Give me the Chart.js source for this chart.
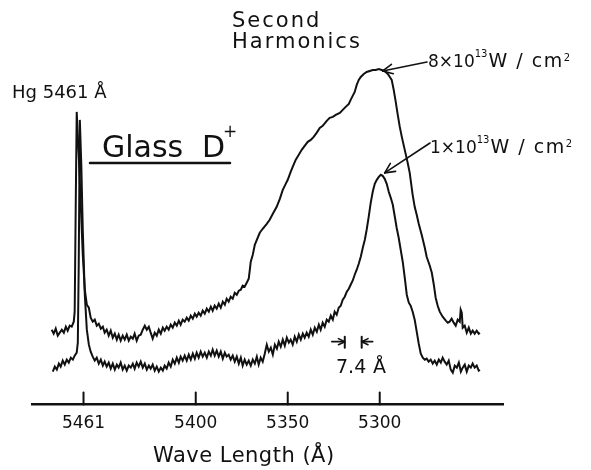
<!DOCTYPE html>
<html>
<head>
<meta charset="utf-8">
<title>Glass D+ second harmonics</title>
<script src="https://cdn.jsdelivr.net/npm/chart.js@4.4.1/dist/chart.umd.min.js"></script>
<style>
    html, body { margin: 0; padding: 0; background: #fff; }
    #chart { display: block; }
</style>
</head>
<body>
<canvas id="chart" width="591" height="470"></canvas>
<script>
// wavelength (Angstrom) and relative intensity
const highWl = [5478.3, 5477.2, 5476.1, 5475.0, 5473.9, 5472.8, 5471.7, 5470.6, 5469.6, 5468.5, 5467.4, 5466.3, 5465.8, 5465.2, 5464.7, 5463.6, 5462.5, 5461.4, 5460.3, 5459.2,
    5458.1, 5457.1, 5456.0, 5454.9, 5453.8, 5452.7, 5451.6, 5450.5, 5449.5, 5448.4, 5447.3, 5446.2, 5445.1, 5444.0, 5442.9, 5441.9, 5440.8, 5439.7, 5438.6, 5437.5,
    5436.4, 5435.3, 5434.2, 5433.2, 5432.1, 5431.0, 5429.9, 5428.8, 5427.7, 5426.6, 5425.5, 5424.5, 5423.4, 5422.3, 5421.2, 5420.1, 5419.0, 5417.9, 5416.9, 5415.8,
    5414.7, 5413.6, 5412.5, 5411.4, 5410.3, 5409.2, 5408.2, 5407.1, 5406.0, 5404.9, 5403.8, 5402.7, 5401.6, 5400.5, 5399.5, 5398.4, 5397.3, 5396.2, 5395.1, 5394.0,
    5392.9, 5391.8, 5390.8, 5389.7, 5388.6, 5387.5, 5386.4, 5385.3, 5384.2, 5383.2, 5382.1, 5381.0, 5379.9, 5378.8, 5377.7, 5376.6, 5375.5, 5374.5, 5373.4, 5372.3,
    5371.2, 5370.6, 5370.1, 5369.0, 5367.9, 5366.8, 5365.2, 5363.6, 5361.4, 5359.8, 5358.1, 5356.0, 5354.3, 5352.7, 5351.1, 5350.0, 5348.4, 5347.3, 5345.7, 5344.0,
    5342.4, 5340.8, 5339.1, 5337.5, 5335.9, 5334.3, 5332.6, 5331.0, 5328.8, 5327.2, 5325.5, 5323.9, 5321.7, 5320.1, 5318.5, 5316.8, 5315.8, 5314.7, 5313.6, 5312.5,
    5311.4, 5310.3, 5308.7, 5307.1, 5305.4, 5303.8, 5302.2, 5300.5, 5298.9, 5297.3, 5295.6, 5294.5, 5293.5, 5292.4, 5291.3, 5290.2, 5289.1, 5288.0, 5286.4, 5284.8,
    5283.7, 5282.1, 5281.0, 5279.9, 5278.8, 5277.2, 5275.5, 5274.5, 5272.8, 5271.7, 5270.6, 5269.6, 5268.5, 5267.4, 5265.8, 5264.1, 5263.0, 5262.0, 5260.9, 5259.8,
    5258.7, 5257.6, 5256.5, 5256.0, 5255.4, 5254.9, 5253.8, 5252.7, 5251.6, 5250.5, 5249.5, 5248.4, 5247.3, 5246.2, 5245.6];
const highInt = [75, 71, 76, 69, 72, 75, 72, 78, 74, 79, 78, 83, 93, 205, 293, 250, 200, 150, 115, 100,
    97, 87, 83, 85, 79, 81, 76, 78, 72, 75, 69, 74, 67, 71, 65, 70, 64, 69, 65, 70,
    64, 68, 66, 71, 64, 69, 70, 75, 79, 75, 78, 72, 66, 72, 69, 75, 71, 77, 74, 78,
    75, 80, 77, 82, 79, 84, 80, 85, 83, 87, 84, 89, 86, 91, 88, 92, 89, 94, 91, 96,
    93, 98, 94, 99, 96, 101, 97, 103, 100, 106, 103, 108, 106, 112, 110, 114, 115, 119, 118, 122,
    126, 135, 143, 150, 160, 165, 172, 176, 181, 185, 191, 198, 206, 215, 221, 225, 233, 238, 245, 250,
    255, 259, 263, 265, 268, 272, 277, 279, 284, 287, 288, 290, 292, 295, 298, 301, 305, 309, 313, 320,
    325, 328, 331, 333, 334, 335, 335, 336, 335, 334, 331, 328, 325, 315, 303, 290, 278, 268, 255, 242,
    232, 210, 198, 190, 181, 170, 157, 148, 139, 132, 120, 107, 99, 93, 88, 84, 82, 83, 86, 82,
    79, 85, 83, 95, 92, 77, 79, 72, 77, 71, 74, 71, 74, 71, 72];

const lowWl = [5477.7, 5476.6, 5475.5, 5474.4, 5473.4, 5472.3, 5471.2, 5470.1, 5469.0, 5467.9, 5466.8, 5465.8, 5464.7, 5464.1, 5463.6, 5463.0, 5462.2, 5461.4, 5460.3, 5459.2,
    5458.1, 5457.1, 5456.0, 5454.9, 5453.8, 5452.7, 5451.6, 5450.5, 5449.5, 5448.4, 5447.3, 5446.2, 5445.1, 5444.0, 5442.9, 5441.9, 5440.8, 5439.7, 5438.6, 5437.5,
    5436.4, 5435.3, 5434.2, 5433.2, 5432.1, 5431.0, 5429.9, 5428.8, 5427.7, 5426.6, 5425.5, 5424.5, 5423.4, 5422.3, 5421.2, 5420.1, 5419.0, 5417.9, 5416.9, 5415.8,
    5414.7, 5413.6, 5412.5, 5411.4, 5410.3, 5409.2, 5408.2, 5407.1, 5406.0, 5404.9, 5403.8, 5402.7, 5401.6, 5400.5, 5399.5, 5398.4, 5397.3, 5396.2, 5395.1, 5394.0,
    5392.9, 5391.8, 5390.8, 5389.7, 5388.6, 5387.5, 5386.4, 5385.3, 5384.2, 5383.2, 5382.1, 5381.0, 5379.9, 5378.8, 5377.7, 5376.6, 5375.5, 5374.5, 5373.4, 5372.3,
    5371.2, 5370.1, 5369.0, 5367.9, 5366.8, 5365.8, 5364.7, 5363.6, 5362.5, 5361.4, 5360.3, 5359.2, 5358.1, 5357.0, 5355.9, 5354.9, 5353.8, 5352.7, 5351.6, 5350.5,
    5349.4, 5348.4, 5347.3, 5346.2, 5345.1, 5344.0, 5342.9, 5341.8, 5340.8, 5339.7, 5338.6, 5337.5, 5336.4, 5335.3, 5334.2, 5333.1, 5332.1, 5331.0, 5329.9, 5328.8,
    5327.7, 5326.6, 5325.5, 5324.5, 5323.4, 5322.3, 5321.2, 5320.1, 5319.0, 5317.9, 5316.8, 5315.8, 5314.7, 5313.6, 5312.5, 5311.4, 5310.3, 5309.2, 5308.1, 5307.1,
    5306.0, 5304.9, 5303.8, 5302.7, 5301.6, 5300.5, 5299.4, 5298.4, 5297.3, 5296.2, 5295.1, 5294.0, 5292.9, 5291.8, 5290.8, 5289.7, 5288.6, 5287.5, 5286.4, 5285.3,
    5284.2, 5283.2, 5282.1, 5281.0, 5279.9, 5278.8, 5277.7, 5276.6, 5275.5, 5274.5, 5273.4, 5272.3, 5271.2, 5270.1, 5269.0, 5267.9, 5266.8, 5265.8, 5264.7, 5263.6,
    5262.5, 5261.4, 5260.3, 5259.2, 5258.1, 5257.0, 5255.9, 5254.9, 5253.8, 5252.7, 5251.6, 5250.5, 5249.5, 5248.4, 5247.3, 5246.2, 5245.6];
const lowInt = [33, 38, 35, 41, 38, 44, 40, 45, 42, 47, 45, 49, 52, 62, 140, 285, 240, 175, 110, 75,
    60, 53, 48, 44, 47, 41, 45, 39, 43, 38, 42, 36, 41, 35, 40, 37, 42, 35, 39, 34,
    39, 37, 41, 36, 42, 38, 43, 37, 41, 35, 39, 36, 40, 34, 38, 33, 37, 34, 39, 36,
    42, 38, 45, 41, 47, 42, 48, 44, 49, 44, 50, 45, 51, 46, 52, 47, 53, 48, 52, 47,
    53, 49, 55, 49, 54, 48, 53, 46, 52, 48, 50, 45, 49, 43, 48, 41, 47, 39, 45, 40,
    44, 39, 45, 41, 48, 40, 47, 43, 51, 60, 53, 57, 50, 60, 56, 63, 58, 65, 59, 67,
    62, 65, 60, 68, 63, 70, 65, 71, 67, 72, 68, 75, 70, 77, 73, 80, 75, 82, 78, 85,
    83, 89, 85, 93, 90, 97, 99, 105, 108, 113, 116, 120, 124, 130, 135, 141, 148, 157, 165, 175,
    188, 202, 213, 221, 225, 228, 230, 229, 226, 221, 213, 207, 200, 188, 177, 167, 155, 143, 127, 110,
    102, 99, 93, 85, 73, 61, 51, 47, 45, 46, 43, 45, 41, 44, 40, 45, 42, 47, 43, 40,
    44, 35, 32, 39, 37, 42, 33, 37, 40, 33, 39, 37, 41, 37, 39, 34, 35];

const tickValues = [5461, 5400, 5350, 5300];
const wlRange = [5233, 5489];
const intRange = [0, 400];

const ink = '#111';
const fontFamily = '"DejaVu Sans", "Liberation Sans", sans-serif';

function toPoints(wl, vals) {
    return wl.map((w, i) => ({ x: w, y: vals[i] }));
}

// text, arrows and the upward tick marks of the original plate
const annotations = {
    id: 'annotations',
    afterDraw(chart) {
        const ctx = chart.ctx;
        const xs = chart.scales.x;
        const ys = chart.scales.y;
        const px = v => xs.getPixelForValue(v);
        const py = v => ys.getPixelForValue(v);

        ctx.save();
        ctx.strokeStyle = ink;
        ctx.fillStyle = ink;
        ctx.lineCap = 'round';

        const line = (x1, y1, x2, y2, w) => {
            ctx.lineWidth = w || 2;
            ctx.beginPath();
            ctx.moveTo(x1, y1);
            ctx.lineTo(x2, y2);
            ctx.stroke();
        };
        const arrow = (x1, y1, x2, y2, size) => {
            line(x1, y1, x2, y2, 1.6);
            const a = Math.atan2(y2 - y1, x2 - x1);
            const s = size || 10;
            line(x2, y2, x2 - s * Math.cos(a - 0.45), y2 - s * Math.sin(a - 0.45), 1.6);
            line(x2, y2, x2 - s * Math.cos(a + 0.45), y2 - s * Math.sin(a + 0.45), 1.6);
        };
        // draws a piece of text and returns where the next piece starts
        const text = (str, x, y, size, spacing) => {
            ctx.font = size + 'px ' + fontFamily;
            ctx.letterSpacing = (spacing || 0) + 'px';
            ctx.textAlign = 'left';
            ctx.textBaseline = 'alphabetic';
            ctx.fillText(str, x, y);
            return x + ctx.measureText(str).width;
        };
        const intensityLabel = (lead, x, y) => {
            let nx = text(lead, x, y, 17, 0);
            nx = text('13', nx, y - 10, 10, 0);
            nx = text('W / cm', nx + 1, y, 19, 1.5);
            text('2', nx, y - 6, 10, 0);
        };

        // tick marks point up into the plot
        xs.ticks.forEach(t => {
            const x = px(t.value);
            line(x, xs.top, x, xs.top - 12, 2);
        });

        // axis title
        text('Wave Length (Å)', 153, 462, 21, 0.5);

        // labels
        text('Hg 5461 Å', 12, 98, 18, 0);

        text('Glass', 102, 157, 30, 0);
        text('D', 202, 157, 30, 0);
        text('+', 223, 137, 17, 0);
        line(90, 163, 230, 163, 2.5);

        text('Second', 232, 27, 21, 2);
        text('Harmonics', 232, 48, 21, 2);

        intensityLabel('8×10', 428, 67);
        arrow(427, 62, px(5298.4), py(334), 11);

        intensityLabel('1×10', 430, 153);
        arrow(430, 143, px(5297.3), py(232), 11);

        // width marker
        const b1 = px(5319.0), b2 = px(5309.8), yb = py(63);
        arrow(b1 - 13, yb, b1, yb, 7);
        line(b1, yb - 5, b1, yb + 6, 2);
        line(b2, yb - 5, b2, yb + 6, 2);
        arrow(b2 + 11, yb, b2, yb, 7);
        text('7.4', 336, 373, 19, 0);
        text('Å', 373, 373, 19, 0);

        ctx.restore();
    }
};

const ctx = document.getElementById('chart').getContext('2d');
new Chart(ctx, {
    type: 'line',
    data: {
        datasets: [
            {
                label: '8×10¹³ W/cm²',
                data: toPoints(highWl, highInt),
                borderColor: ink,
                borderWidth: 2,
                pointRadius: 0,
                tension: 0,
                fill: false
            },
            {
                label: '1×10¹³ W/cm²',
                data: toPoints(lowWl, lowInt),
                borderColor: ink,
                borderWidth: 2,
                pointRadius: 0,
                tension: 0,
                fill: false
            }
        ]
    },
    options: {
        responsive: false,
        animation: false,
        devicePixelRatio: 1,
        parsing: false,
        layout: { padding: { left: 32, right: 88, top: 5, bottom: 27 } },
        plugins: {
            legend: { display: false },
            tooltip: { enabled: false }
        },
        scales: {
            x: {
                type: 'linear',
                reverse: true,
                min: wlRange[0],
                max: wlRange[1],
                afterBuildTicks: scale => {
                    scale.ticks = tickValues.map(v => ({ value: v }));
                },
                grid: { display: false, drawTicks: false },
                border: { display: true, color: ink, width: 2.5 },
                ticks: {
                    color: ink,
                    padding: 9,
                    maxRotation: 0,
                    autoSkip: false,
                    font: { family: fontFamily, size: 17 },
                    callback: v => String(v)
                }
            },
            y: {
                display: false,
                min: intRange[0],
                max: intRange[1]
            }
        }
    },
    plugins: [annotations]
});
</script>
</body>
</html>
